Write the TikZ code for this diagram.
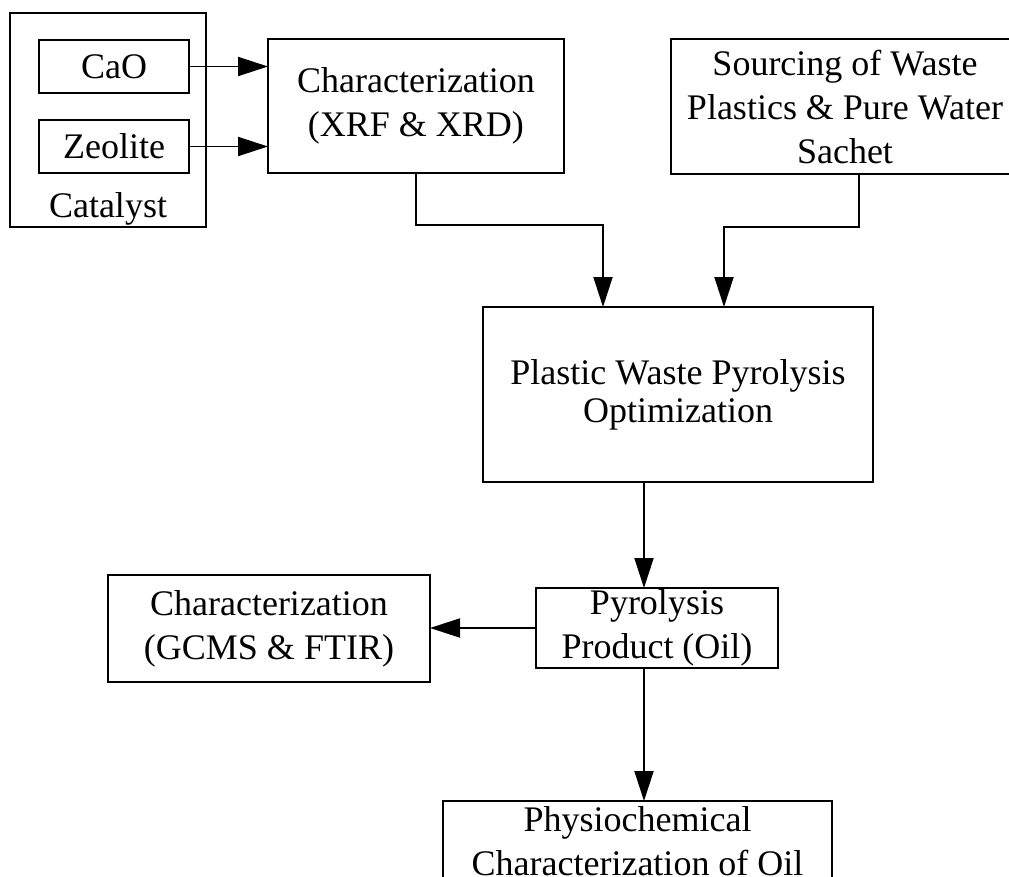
\documentclass[tikz,border=0pt]{standalone}
\usepackage{fontspec}
\setmainfont{Liberation Serif}
\usetikzlibrary{arrows.meta}
\begin{document}
\begin{tikzpicture}[x=1pt,y=-1pt,
  box/.style={draw, line width=1.9pt, inner sep=0pt, outer sep=0pt, align=center,
              font=\fontsize{36}{44}\selectfont},
  lbl/.style={inner sep=0pt, font=\fontsize{36}{44}\selectfont},
  arr/.style={line width=1.9pt, -{Triangle[length=30pt,width=19pt]}}]
\useasboundingbox (0,0) rectangle (1009,876);
\clip (0,0) rectangle (1009,876);
% catalyst group
\node[box, minimum width=196pt, minimum height=214pt] (cat) at (108,120) {};
\node[lbl, anchor=base] (catlbl) at (108,217) {Catalyst};
\node[box, minimum width=150pt, minimum height=53pt] (cao) at (114,66.5) {CaO};
\node[box, minimum width=150pt, minimum height=53pt] (zeo) at (114,146.5) {Zeolite};
% top boxes
\node[box, minimum width=296pt, minimum height=134pt] (xrf) at (416,106) {Characterization\\(XRF \& XRD)};
\node[box, minimum width=348pt, minimum height=135pt] (src) at (845,106.5) {Sourcing of Waste\\Plastics \& Pure Water\\Sachet};
% middle
\node[box, minimum width=390pt, minimum height=175pt, font=\fontsize{36}{38}\selectfont] (opt) at (678,394.5) {Plastic Waste Pyrolysis\\Optimization};
\node[box, minimum width=242pt, minimum height=80pt] (prod) at (657,628) {Pyrolysis\\Product (Oil)};
\node[box, minimum width=322pt, minimum height=107pt] (gcms) at (269,628.5) {Characterization\\(GCMS \& FTIR)};
\node[box, minimum width=389pt, minimum height=80pt] (phys) at (637.5,841) {Physiochemical\\Characterization of Oil};
% helper coordinates
\coordinate (j1) at (603,225);
\coordinate (s1) at (859,0);
\coordinate (j2) at (724,227);
\coordinate (ax) at (644,0);
% connectors
\draw[arr] (cao.east) -- (xrf.west |- cao.east);
\draw[arr] (zeo.east) -- (xrf.west |- zeo.east);
\draw[arr] (xrf.south) |- (j1) -- (j1 |- opt.north);
\draw[arr] (src.south -| s1) |- (j2) -- (j2 |- opt.north);
\draw[arr] (opt.south -| ax) -- (prod.north -| ax);
\draw[arr] (prod.west) -- (gcms.east |- prod.west);
\draw[arr] (prod.south -| ax) -- (phys.north -| ax);
\end{tikzpicture}
\end{document}
